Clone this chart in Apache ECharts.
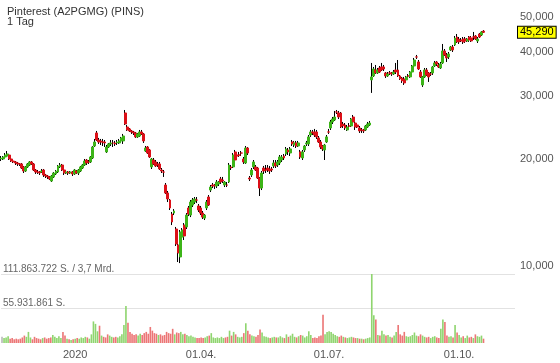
<!DOCTYPE html>
<html><head><meta charset="utf-8">
<script src="https://cdn.jsdelivr.net/npm/echarts@6/dist/echarts.min.js"></script>
<style>html,body{margin:0;padding:0;background:#fff}#c{width:560px;height:363px}</style>
</head><body><div id="c"></div>
<script>
const title = 'Pinterest (A2PGMG) (PINS)';
const subtitle = '1 Tag';
const startDate = '2019-11-08';
const holidays = ['2019-11-28','2019-12-25','2020-01-01','2020-01-20','2020-02-17','2020-04-10','2020-05-25','2020-07-03','2020-09-07','2020-11-26'];
const totalSlots = 253;
const xTickLabels = {'2020-01-02':'2020','2020-04-01':'01.04.','2020-07-01':'01.07.','2020-10-01':'01.10.'};
const priceTicks = [10000, 20000, 30000, 40000, 50000];
const volumeTicks = [0, 55931861, 111863722];
const volumeTickLabels = ['', '55.931.861 S.', '111.863.722 S. / 3,7 Mrd.'];

const opens = [19970,19970,20230,20360,20490,19970,19710,19590,19460,19340,19340,18970,18480,18970,19210,19590,19340,18600,18360,18360,18360,18600,18010,17890,17780,17320,17780,18130,18360,18970,19210,18600,18240,18360,18240,18360,18130,18480,18240,18480,18840,19210,19840,19590,19590,20100,21720,23630,22580,22440,22290,22290,20900,21580,22010,22150,22150,22150,22150,22440,22440,26890,24560,24250,23940,23780,23630,23030,23170,23780,23480,21030,21580,21170,18970,19840,19590,19340,19340,18600,18360,16880,16030,15320,13990,14080,12700,11450,10600,12060,13030,12870,14550,13900,14830,15120,15320,14740,14550,14080,13630,14550,15620,16340,16880,16880,16770,16990,17550,17430,16880,16880,17210,18970,18970,20900,20490,20490,20760,19970,19460,21440,17660,18010,18970,18970,18840,17660,16550,18840,18600,18840,18720,18720,19090,19460,19210,19460,19840,20360,20630,21170,20760,22290,21860,22150,21720,20900,20100,21170,22010,22010,23320,23780,23780,23780,22880,22290,21720,21170,22290,23780,24400,25370,25700,27060,26890,26890,25040,24880,24090,24720,24720,26200,25200,24880,24400,24090,24090,24090,24560,24880,33290,34160,35500,34820,35960,36200,36200,34820,34160,34820,34820,34590,35500,35500,34160,33720,33500,33290,34160,33940,35040,36430,38620,37390,35040,32230,33940,35500,34820,34590,34820,36430,37390,36670,35960,37150,40140,39120,38620,40400,41190,41730,43940,43370,43100,43370,43370,42820,43940,43650,43940,44220,42820,44800,44510,45640];
const closes = [20100,20230,20490,20630,19970,19710,19590,19460,19340,19330,18840,18480,18970,19340,19590,19340,18600,18360,18350,18240,18480,18010,17890,17780,17550,17890,18240,18480,19090,19210,18600,18240,18360,18240,18360,18130,18600,18240,18600,18970,19210,19710,19460,19580,20230,21580,22290,22580,22290,22290,22280,22150,21580,22010,22150,22140,22010,22290,22440,22880,23170,25040,24090,23940,23780,23630,23030,23480,23780,23480,22440,21440,20760,20230,19970,19340,19090,19210,18720,18480,18350,16030,15420,14550,13290,14270,11530,10880,12460,12620,12140,13900,13990,15120,15320,15420,15310,14360,14080,13720,13900,15120,14830,16660,16770,16770,17210,17210,17210,17320,17210,16870,19210,18840,20490,19840,20360,20480,20750,19590,21440,20760,17550,18600,19590,18600,17660,16550,18240,18480,18590,18600,18480,18600,19460,19090,19590,20230,20230,20100,21310,20900,21310,22010,22150,21720,22150,20230,20900,21720,22150,23030,23780,23630,23320,23030,22290,21580,21310,21860,23030,23770,25370,25860,26200,27050,26200,24560,24720,24400,24560,24710,25860,25370,24560,24560,23940,24080,23940,24720,25040,25200,33940,35730,34820,35500,35040,35500,35730,34160,34590,34810,34590,35040,35040,34160,33500,33070,32650,33940,34150,35040,36430,37870,38610,35730,33940,33940,35500,34380,33940,34580,36200,37150,36910,36200,36910,40140,39120,38370,39370,41190,40400,43650,42540,42540,42820,42540,42820,43370,43100,42820,43930,43370,43370,43940,45390,45290];
const lows = [19710,19840,20100,20230,19840,19590,19460,19210,19090,19090,18720,18240,18360,18840,19090,19210,18480,18130,18130,18010,18240,17780,17660,17550,17430,17210,17660,18010,18240,18840,18480,18010,18130,18010,18130,17890,18010,18130,18010,18360,18720,19090,19210,19340,19460,19970,21580,22440,22010,21860,21720,21580,20760,21440,21720,21580,21720,21860,22010,22290,22010,24880,23940,23780,23480,23320,22880,22880,23030,23320,22150,20900,20630,20100,18720,19210,18970,18970,18600,18240,17780,15920,15120,14360,13030,13900,11380,10260,10190,11830,11830,12700,13810,13720,14640,14930,15020,14180,13900,13550,13460,14360,14740,16130,16550,16450,16550,16770,16990,17100,16660,16660,17100,18600,18840,19710,20100,20230,20360,19340,19340,20490,17320,17780,18720,18480,17550,15720,16340,18130,18240,18360,18130,18360,18840,18840,18970,19210,19590,19840,20360,20490,20360,21720,21580,21440,21580,19970,19840,20900,21720,21720,23030,23320,23030,22730,22150,21310,21030,19840,22150,23480,24090,25040,25530,26710,25860,24400,24400,24090,23940,24400,24560,25040,24090,24400,23630,23630,23630,23940,24400,24720,30610,33940,34590,34590,34820,35270,35270,33720,33940,34380,34160,34380,34590,33940,33290,32650,32230,32860,33720,33720,34820,36200,38120,35500,33720,31820,33720,34160,32860,34160,34380,36200,36430,35960,35730,36910,38870,37390,38120,40140,39880,41460,42270,42000,42540,42000,42270,42540,42540,42540,43100,43100,42270,43650,44220,45100];
const highs = [20360,20360,20760,21030,20630,20100,19840,19710,19590,19460,19460,19090,19090,19460,19710,19710,19460,18720,18600,18480,18720,18720,18130,18010,17890,18010,18360,18600,19210,19460,19340,18720,18480,18480,18480,18480,18720,18600,18720,19090,19340,19970,19970,19840,20360,21720,22730,23940,22880,22730,22730,22580,21860,22150,22580,22580,22440,22580,22730,23030,23480,27410,24880,24400,24090,23940,23780,23630,24090,24090,23630,21720,21720,21310,20100,20100,19840,19590,19590,18840,18600,17100,16240,15420,14180,14450,12870,11600,12620,12780,13200,14080,14740,15320,15520,15620,15620,14930,14740,14270,13990,15320,15820,16880,17100,16990,17430,17320,17780,17780,17320,17210,19460,19210,20760,21170,20760,20900,21030,20230,21720,21580,17890,18840,19840,19210,18970,17780,18480,19090,19210,19210,19090,18970,19840,19840,19840,20490,20490,20630,21580,21440,21580,22580,22440,22440,22440,21170,21170,21860,22440,23320,24090,24090,24250,24090,23170,22580,21860,22010,23320,24250,25700,26200,27240,27410,27240,27060,25370,25200,24880,25200,26030,26540,25530,25040,24720,24400,24250,24880,25370,25530,37150,36200,36670,35960,36430,37150,36670,35040,35040,35270,35040,35500,37150,37870,34380,33940,33940,34160,34590,35270,36670,38370,39120,37870,35500,34160,35960,35960,35040,35040,36430,37630,37630,37150,37390,42000,40660,39630,39880,41460,41730,44220,44800,43940,43650,43940,43940,43650,44220,44220,45390,44510,43940,45100,45640,45940];
const volumesMio = [10,8,9,11,7,8,6,7,6,7,9,12,10,18,9,6,10,8,7,6,8,9,7,8,9,13,10,8,11,8,18,12,7,6,5,6,7,8,7,9,8,10,9,7,14,35,31,19,28,12,10,9,14,12,10,9,10,9,11,14,29,60,33,18,15,13,14,12,15,13,16,18,15,26,20,16,15,13,14,12,13,18,16,15,23,14,17,16,18,14,15,13,11,12,10,9,8,8,9,8,9,11,12,16,9,8,9,8,10,8,9,10,20,12,18,14,10,9,10,16,32,20,14,12,11,10,13,22,17,11,10,9,8,9,10,9,9,11,9,8,14,10,12,15,10,9,11,13,12,9,11,19,13,8,9,8,11,12,46,14,18,19,18,15,13,11,10,12,10,9,8,9,10,9,8,8,7,7,6,7,8,9,111.863722,45,38,13,12,20,14,12,13,10,9,12,18,29,14,12,18,11,10,11,13,17,12,11,14,12,10,9,10,8,10,11,9,8,23,38,34,12,10,11,9,29,17,13,9,11,8,12,9,10,8,14,11,10,12,7];

// trading-day categories
const categories = [];
(function(){
  const d = new Date(startDate + 'T00:00:00Z');
  while (categories.length < totalSlots) {
    const s = d.toISOString().slice(0,10);
    const wd = d.getUTCDay();
    if (wd !== 0 && wd !== 6 && holidays.indexOf(s) < 0) categories.push(s);
    d.setUTCDate(d.getUTCDate() + 1);
  }
})();

const n = opens.length;
const wickData = opens.map((o,i) => [o, closes[i], lows[i], highs[i]]);
const bodyData = opens.map((o,i) => [o, closes[i], Math.min(o, closes[i]), Math.max(o, closes[i])]);
const GREEN = '#3cb418', RED = '#dc1018';
const volData = volumesMio.map((v,i) => {
  let col = '#b9b9b9';
  if (i > 0) col = closes[i] >= closes[i-1] ? '#8fd56f' : '#ec7676';
  return {value: Math.round(v * 1e6), itemStyle: {color: col}};
});
const lastClose = closes[n-1];
const font = 'Liberation Sans, Arial, sans-serif';
const fmt = v => Math.round(v).toLocaleString('en-US');

const chart = echarts.init(document.getElementById('c'), null, {renderer: 'canvas'});
chart.setOption({
  animation: false,
  backgroundColor: '#fff',
  title: {text: title + '\n' + subtitle, left: 2, top: 2,
    textStyle: {fontSize: 11, fontWeight: 'normal', color: '#333', fontFamily: font, lineHeight: 10}},
  grid: [
    {left: 0, right: 45, top: 17, height: 249},
    {left: 0, right: 45, top: 274, height: 69}
  ],
  xAxis: [
    {type: 'category', gridIndex: 0, data: categories, boundaryGap: true, show: false},
    {type: 'category', gridIndex: 1, data: categories, boundaryGap: true,
      axisLine: {show: false}, axisTick: {show: false},
      axisLabel: {interval: (idx, val) => xTickLabels[val] !== undefined,
        formatter: val => xTickLabels[val] || '', color: '#555', fontSize: 11, fontFamily: font, margin: 6}}
  ],
  yAxis: [
    {type: 'log', logBase: 10, gridIndex: 0, position: 'right', min: 10000, max: 50000,
      axisLine: {show: false}, axisTick: {show: false}, splitLine: {show: false},
      axisLabel: {customValues: priceTicks, formatter: v => fmt(v), color: '#555', fontSize: 11, fontFamily: font, margin: 5, showMinLabel: true, showMaxLabel: true}},
    {type: 'value', gridIndex: 1, position: 'left', min: 0, max: volumeTicks[2], interval: volumeTicks[1],
      axisLine: {show: false}, axisTick: {show: false},
      splitLine: {show: true, showMinLine: false, lineStyle: {color: '#e2e2e2', width: 1}},
      axisLabel: {inside: true, margin: 2, verticalAlign: 'bottom', align: 'left', color: '#666', fontSize: 10, fontFamily: font,
        formatter: v => { const k = volumeTicks.indexOf(v); return k >= 0 ? volumeTickLabels[k] : ''; }}}
  ],
  series: [
    {type: 'candlestick', name: 'wick', xAxisIndex: 0, yAxisIndex: 0, data: wickData, barWidth: 1,
      itemStyle: {color: '#000', color0: '#000', borderColor: '#000', borderColor0: '#000', borderColorDoji: '#000', borderWidth: 1}, silent: true},
    {type: 'candlestick', name: 'body', xAxisIndex: 0, yAxisIndex: 0, data: bodyData, barWidth: 2.4,
      itemStyle: {color: GREEN, color0: RED, borderColor: GREEN, borderColor0: RED, borderColorDoji: RED, borderWidth: 1}, silent: true,
      markLine: {silent: true, symbol: ['none','none'], data: [{yAxis: lastClose}],
        lineStyle: {color: 'rgba(0,0,0,0)', width: 1, type: 'solid'},
        label: {show: true, position: 'end', distance: 3, formatter: () => fmt(lastClose), color: '#000', fontSize: 11, fontFamily: font,
          backgroundColor: '#ffff00', borderColor: '#000', borderWidth: 1, padding: [0, 2, 0, 2], opacity: 1}}},
    {type: 'bar', name: 'volume', xAxisIndex: 1, yAxisIndex: 1, data: volData, barWidth: '80%', silent: true}
  ]
});
</script></body></html>
